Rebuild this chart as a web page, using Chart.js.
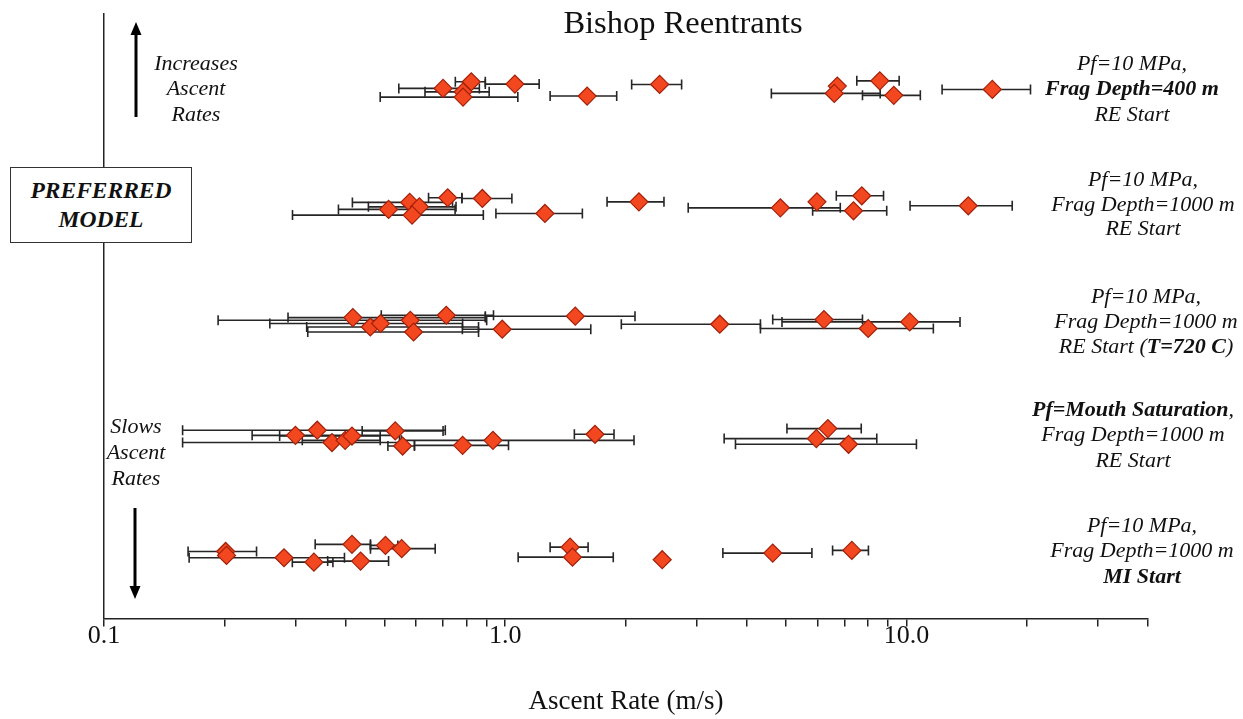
<!DOCTYPE html>
<html>
<head>
<meta charset="utf-8">
<script src="https://cdn.jsdelivr.net/npm/chart.js@4.4.1/dist/chart.umd.min.js"></script>
<style>
  html, body { margin:0; padding:0; background:#fff; }
  #wrap { position:relative; width:1243px; height:719px; overflow:hidden; font-family:"Liberation Serif","Times New Roman",serif; color:#111; }
  #c { position:absolute; left:0; top:0; }
  .lbl { position:absolute; transform:translate(-50%,-50%); text-align:center; white-space:nowrap; font-style:italic; font-size:22px; }
  .b { font-weight:bold; }
  #title { position:absolute; left:683px; top:22px; transform:translate(-50%,-50%); font-size:32.5px; white-space:nowrap; }
  #box { position:absolute; left:10px; top:167px; width:182px; height:76px; border:1.5px solid #333; background:#fff; box-sizing:border-box;
         display:flex; flex-direction:column; justify-content:center; align-items:center; font-weight:bold; font-style:italic; font-size:23.5px; line-height:29px; }
  svg { position:absolute; left:0; top:0; }
</style>
</head>
<body>
<div id="wrap">
  <canvas id="c" width="1243" height="719"></canvas>
  <div id="title">Bishop Reentrants</div>
  <svg width="1243" height="719">
    <line x1="136" y1="117" x2="136" y2="33" stroke="#000" stroke-width="3"/>
    <polygon points="136,22 130.5,35 141.5,35" fill="#000"/>
    <line x1="135" y1="508" x2="135" y2="588" stroke="#000" stroke-width="3"/>
    <polygon points="135,599 129.5,586 140.5,586" fill="#000"/>
  </svg>
  <div class="lbl" style="left:196px;top:87.5px;line-height:25.5px;">Increases<br>Ascent<br>Rates</div>
  <div class="lbl" style="left:136px;top:452px;line-height:26px;">Slows<br>Ascent<br>Rates</div>
  <div id="box"><div>PREFERRED</div><div>MODEL</div></div>
  <div class="lbl" style="left:1132px;top:87.7px;line-height:25.5px;">Pf=10 MPa,<br><span class="b">Frag Depth=400 m</span><br>RE Start</div>
  <div class="lbl" style="left:1143px;top:204px;line-height:24.5px;">Pf=10 MPa,<br>Frag Depth=1000 m<br>RE Start</div>
  <div class="lbl" style="left:1146px;top:320px;line-height:25px;">Pf=10 MPa,<br>Frag Depth=1000 m<br>RE Start (<span class="b">T=720 C</span>)</div>
  <div class="lbl" style="left:1133px;top:433.5px;line-height:25.5px;"><span class="b">Pf=Mouth Saturation</span>,<br>Frag Depth=1000 m<br>RE Start</div>
  <div class="lbl" style="left:1142px;top:549.5px;line-height:25.5px;">Pf=10 MPa,<br>Frag Depth=1000 m<br><span class="b">MI Start</span></div>
</div>
<script>
// ---- Data (ascent rates in m/s; lo/hi = error-bar limits; off = small vertical jitter within a row) ----
const rowPos = [5, 4, 3, 2, 1];

const fd400Rate = [0.70, 0.823, 0.785, 0.785, 1.057, 1.600, 2.426, 6.724, 6.609, 8.581, 9.299, 16.37];
const fd400Lo   = [0.543, 0.751, 0.631, 0.488, 0.892, 1.294, 2.066, null, 4.606, 7.521, 7.770, 12.27];
const fd400Hi   = [0.862, 0.892, 0.912, 1.075, 1.215, 1.896, 2.752, null, 8.601, 9.590, 10.83, 20.38];
const fd400Off  = [0, 0.057, -0.03, -0.075, 0.037, -0.066, 0.034, 0.02, -0.043, 0.065, -0.06, -0.009];

const fd1000Rate = [0.719, 0.877, 0.578, 0.611, 0.512, 0.586, 1.256, 2.154, 4.85, 5.983, 7.38, 7.74, 14.26];
const fd1000Lo   = [0.644, 0.780, 0.416, 0.456, 0.384, 0.295, 0.948, 1.794, 2.858, null, 5.837, 6.686, 10.21];
const fd1000Hi   = [0.780, 1.039, 0.739, 0.754, 0.75, 0.882, 1.557, 2.487, 6.841, null, 8.93, 8.768, 18.35];
const fd1000Off  = [0.059, 0.053, 0.019, -0.019, -0.041, -0.09, -0.076, 0.024, -0.028, 0.024, -0.053, 0.076, -0.01];

const t720Rate = [0.417, 0.461, 0.489, 0.580, 0.591, 0.713, 0.983, 1.495, 3.425, 6.228, 8.03, 10.19];
const t720Lo   = [0.2875, 0.320, 0.259, 0.1925, 0.322, 0.491, 0.782, 0.892, 1.947, 4.642, 4.326, 4.896];
const t720Hi   = [0.892, 0.858, 0.783, 0.899, 0.858, 0.935, 1.634, 2.106, 4.326, 7.770, 11.67, 13.6];
const t720Off  = [0.028, -0.053, -0.023, 0.005, -0.096, 0.048, -0.072, 0.04, -0.029, 0.011, -0.066, -0.009];

const mouthRate = [0.300, 0.340, 0.370, 0.399, 0.415, 0.532, 0.555, 0.783, 0.932, 1.674, 5.962, 6.37, 7.173];
const mouthLo   = [0.234, 0.157, 0.157, 0.312, 0.274, 0.44, 0.510, 0.594, 0.551, 1.487, 3.513, 5.037, 3.749];
const mouthHi   = [0.545, 0.709, 0.554, 0.488, 0.488, 0.70, 0.594, 1.019, 2.094, 1.867, 8.435, 7.715, 10.59];
const mouthOff  = [0.015, 0.059, -0.047, -0.028, 0.009, 0.053, -0.077, -0.071, -0.028, 0.024, -0.013, 0.073, -0.062];

const miRate = [0.201, 0.202, 0.281, 0.3336, 0.415, 0.436, 0.503, 0.552, 1.451, 1.471, 2.462, 4.642, 7.31];
const miLo   = [0.162, null, 0.163, 0.2947, 0.336, 0.361, 0.4615, 0.4615, 1.294, 1.077, null, 3.487, 6.545];
const miHi   = [0.240, null, 0.3975, 0.372, 0.4615, 0.512, 0.540, 0.669, 1.609, 1.859, null, 5.813, 8.04];
const miOff  = [0.016, -0.018, -0.038, -0.076, 0.077, -0.067, 0.068, 0.04, 0.053, -0.033, -0.055, 0.002, 0.025];

const tickValues = [0.1,0.2,0.3,0.4,0.5,0.6,0.7,0.8,0.9,1,2,3,4,5,6,7,8,9,10,20,30,40];
const tickLabels = {0.1: '0.1', 1: '1.0', 10: '10.0'};

// ---- Build datasets ----
function rowData(rate, lo, hi, off, row) {
  return rate.map((v, i) => ({ x: v, y: row + off[i], xMin: lo[i], xMax: hi[i] }));
}
const rows = [
  rowData(fd400Rate, fd400Lo, fd400Hi, fd400Off, rowPos[0]),
  rowData(fd1000Rate, fd1000Lo, fd1000Hi, fd1000Off, rowPos[1]),
  rowData(t720Rate, t720Lo, t720Hi, t720Off, rowPos[2]),
  rowData(mouthRate, mouthLo, mouthHi, mouthOff, rowPos[3]),
  rowData(miRate, miLo, miHi, miOff, rowPos[4])
];
const datasets = rows.map(d => ({
  data: d,
  pointStyle: 'rectRot',
  pointRadius: 9,
  pointHoverRadius: 9,
  pointBackgroundColor: '#f2471f',
  pointBorderColor: '#a3200a',
  pointBorderWidth: 1.2,
  showLine: false
}));

const errorBars = {
  id: 'errorBars',
  beforeDatasetsDraw(chart) {
    const { ctx, scales: { x, y } } = chart;
    ctx.save();
    ctx.strokeStyle = '#262626';
    ctx.lineWidth = 1.6;
    chart.data.datasets.forEach(ds => ds.data.forEach(p => {
      if (p.xMin == null || p.xMax == null) return;
      const py = y.getPixelForValue(p.y);
      const x1 = x.getPixelForValue(p.xMin), x2 = x.getPixelForValue(p.xMax);
      ctx.beginPath();
      ctx.moveTo(x1, py); ctx.lineTo(x2, py);
      ctx.moveTo(x1, py - 5); ctx.lineTo(x1, py + 5);
      ctx.moveTo(x2, py - 5); ctx.lineTo(x2, py + 5);
      ctx.stroke();
    }));
    ctx.restore();
  }
};

new Chart(document.getElementById('c'), {
  type: 'scatter',
  data: { datasets },
  plugins: [errorBars],
  options: {
    responsive: false,
    animation: false,
    devicePixelRatio: 1,
    layout: { padding: { left: 104, right: 95, top: 14, bottom: 0 } },
    plugins: { legend: { display: false }, tooltip: { enabled: false }, title: { display: false } },
    scales: {
      x: {
        type: 'logarithmic',
        min: 0.1, max: 40,
        afterBuildTicks: (s) => { s.ticks = tickValues.map(v => ({ value: v })); },
        ticks: {
          autoSkip: false, maxRotation: 0, padding: -6,
          color: '#111',
          font: { family: 'Liberation Serif', size: 26 },
          callback: (v) => tickLabels[v] !== undefined ? tickLabels[v] : ''
        },
        grid: { drawOnChartArea: false, drawTicks: true, tickLength: 8, color: '#222', lineWidth: 1.5 },
        border: { display: true, color: '#222', width: 1.5 },
        title: {
          display: true, text: 'Ascent Rate (m/s)', color: '#111',
          font: { family: 'Liberation Serif', size: 27 },
          padding: { top: 40, bottom: 1 }
        }
      },
      y: {
        type: 'linear',
        min: 0.44, max: 5.64,
        ticks: { display: false },
        grid: { display: false, drawTicks: false },
        border: { display: true, color: '#222', width: 1.5 }
      }
    }
  }
});
</script>
</body>
</html>
